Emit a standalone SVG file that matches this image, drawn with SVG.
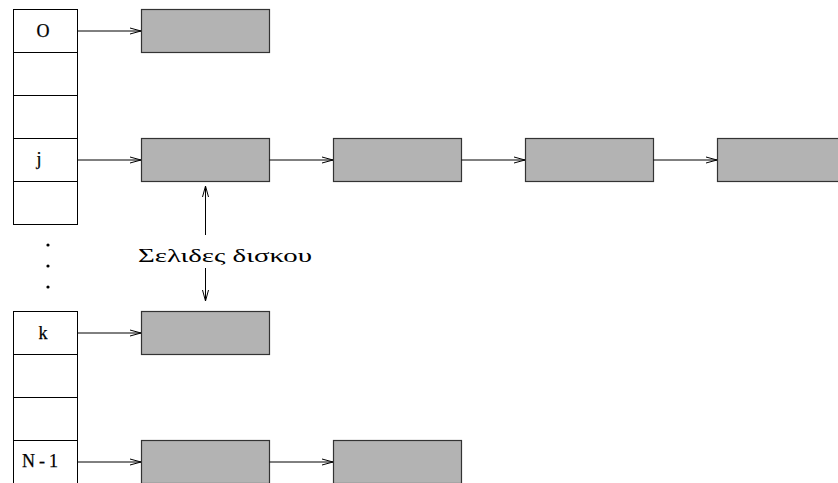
<svg xmlns="http://www.w3.org/2000/svg" width="838" height="483" viewBox="0 0 838 483">
<style>
.cell{fill:#fff;stroke:#000;stroke-width:1}
.page{fill:#b3b3b3;stroke:#333;stroke-width:1.2}
.lbl{font-family:"Liberation Serif","DejaVu Serif",serif;font-size:18px;fill:#000;text-anchor:middle;stroke:#000;stroke-width:0.25}
.ln{stroke:#000;stroke-width:1;fill:none}
</style>
<defs>
<marker id="ah" markerUnits="userSpaceOnUse" markerWidth="14" markerHeight="10" viewBox="-12 -5 14 10" refX="0" refY="0" orient="auto">
<path d="M-11,-3 L0,0 L-11,3" fill="none" stroke="#000" stroke-width="1"/>
</marker>
</defs>
<rect width="838" height="483" fill="#fff"/>
<g id="table-top">
<rect class="cell" x="13.5" y="9.5" width="64" height="43"/>
<rect class="cell" x="13.5" y="52.5" width="64" height="43"/>
<rect class="cell" x="13.5" y="95.5" width="64" height="43"/>
<rect class="cell" x="13.5" y="138.5" width="64" height="43"/>
<rect class="cell" x="13.5" y="181.5" width="64" height="43"/>
<text class="lbl" x="43" y="36.5">O</text>
<text class="lbl" x="39" y="165">j</text>
</g>
<g id="dots">
<circle cx="48" cy="245" r="1.6" fill="#000"/>
<circle cx="48" cy="266" r="1.6" fill="#000"/>
<circle cx="48" cy="287" r="1.6" fill="#000"/>
</g>
<g id="table-bottom">
<rect class="cell" x="13.5" y="311.5" width="64" height="43"/>
<rect class="cell" x="13.5" y="354.5" width="64" height="43"/>
<rect class="cell" x="13.5" y="397.5" width="64" height="43"/>
<rect class="cell" x="13.5" y="440.5" width="64" height="43"/>
<text class="lbl" x="43" y="338.5">k</text>
<text class="lbl" x="40" y="466.5" textLength="36" lengthAdjust="spacing">N-1</text>
</g>
<g id="page-0"><rect class="page" x="141.5" y="9.5" width="128" height="43"/></g>
<g id="page-j1"><rect class="page" x="141.5" y="138.5" width="128" height="43"/></g>
<g id="page-j2"><rect class="page" x="333.5" y="138.5" width="128" height="43"/></g>
<g id="page-j3"><rect class="page" x="525.5" y="138.5" width="128" height="43"/></g>
<g id="page-j4"><rect class="page" x="717.5" y="138.5" width="128" height="43"/></g>
<g id="page-k"><rect class="page" x="141.5" y="311.5" width="128" height="43"/></g>
<g id="page-n1"><rect class="page" x="141.5" y="440.5" width="128" height="43"/></g>
<g id="page-n2"><rect class="page" x="333.5" y="440.5" width="128" height="43"/></g>
<g id="label">
<text x="225" y="262" font-family="'Liberation Serif','DejaVu Serif',serif" font-size="18" text-anchor="middle" textLength="174" lengthAdjust="spacingAndGlyphs">Σελιδες δισκου</text>
</g>
<g id="connectors">
<line class="ln" x1="77.5" y1="31" x2="141" y2="31" marker-end="url(#ah)"/>
<line class="ln" x1="77.5" y1="160" x2="141" y2="160" marker-end="url(#ah)"/>
<line class="ln" x1="269.5" y1="160" x2="333" y2="160" marker-end="url(#ah)"/>
<line class="ln" x1="461.5" y1="160" x2="525" y2="160" marker-end="url(#ah)"/>
<line class="ln" x1="653.5" y1="160" x2="717" y2="160" marker-end="url(#ah)"/>
<line class="ln" x1="77.5" y1="333" x2="141" y2="333" marker-end="url(#ah)"/>
<line class="ln" x1="77.5" y1="462" x2="141" y2="462" marker-end="url(#ah)"/>
<line class="ln" x1="269.5" y1="462" x2="333" y2="462" marker-end="url(#ah)"/>
<line class="ln" x1="205.5" y1="235" x2="205.5" y2="186" marker-end="url(#ah)"/>
<line class="ln" x1="205.5" y1="268" x2="205.5" y2="301" marker-end="url(#ah)"/>
</g>
</svg>
